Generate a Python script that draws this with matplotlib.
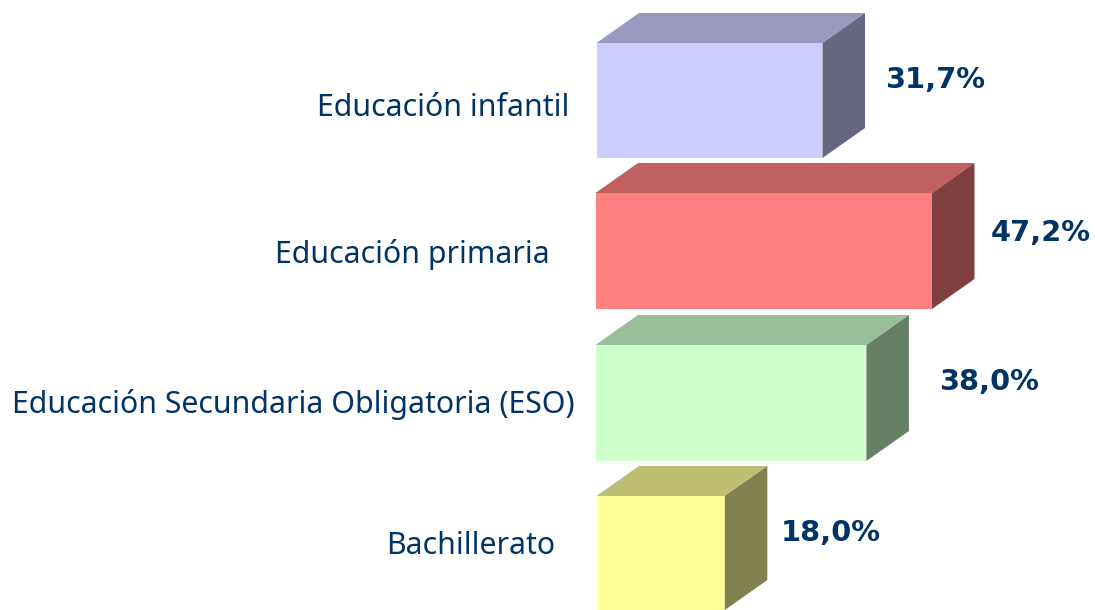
import matplotlib
matplotlib.use("Agg")
import matplotlib.pyplot as plt
from matplotlib.patches import Polygon

categories = ["Educación infantil", "Educación primaria", "Educación Secundaria Obligatoria (ESO)", "Bachillerato"]
values = [31.7, 47.2, 38.0, 18.0]
value_labels = ["31,7%", "47,2%", "38,0%", "18,0%"]
front = ["#CCCCFF", "#FF8080", "#CCFFCC", "#FFFF99"]
top = ["#9999C0", "#C06060", "#99BF99", "#BFBF73"]
side = ["#666680", "#804040", "#668066", "#808050"]
tops_px = [43, 193, 345, 496]
bottoms_px = [158, 309, 461, 610]
label_right_px = [569, 550, 575, 555]
label_y_px = [108, 254, 405, 546]
val_xy_px = [(885, 80), (991, 233), (939, 382), (781, 533)]
left_px = [596.5, 595.5, 595.5, 596.5]

W, H = 1095, 610
PX_PER_UNIT = (932 - 595.5) / 47.2
DX, DY = 42.5, 30
NAVY = "#003366"

fig = plt.figure(figsize=(W / 100, H / 100), dpi=100)
ax = fig.add_axes([0, 0, 1, 1])
ax.set_xlim(0, W)
ax.set_ylim(H, 0)
ax.axis("off")

for i, v in enumerate(values):
    x0 = left_px[i]
    x1 = x0 + v * PX_PER_UNIT
    y0, y1 = tops_px[i], bottoms_px[i]
    ax.add_patch(Polygon([(x0, y0), (x1, y0), (x1, y1), (x0, y1)], fc=front[i], ec="none"))
    ax.add_patch(Polygon([(x0, y0), (x0 + DX, y0 - DY), (x1 + DX, y0 - DY), (x1, y0)], fc=top[i], ec="none"))
    ax.add_patch(Polygon([(x1, y0), (x1 + DX, y0 - DY), (x1 + DX, y1 - DY), (x1, y1)], fc=side[i], ec="none"))
    ax.text(label_right_px[i], label_y_px[i], categories[i], ha="right", va="center",
            fontsize=21.8, color=NAVY, family=["Noto Sans"])
    ax.text(val_xy_px[i][0], val_xy_px[i][1], value_labels[i], ha="left", va="center",
            fontsize=20.8, color=NAVY, fontweight="bold", family=["DejaVu Sans"])

fig.savefig("out.png", dpi=100)
